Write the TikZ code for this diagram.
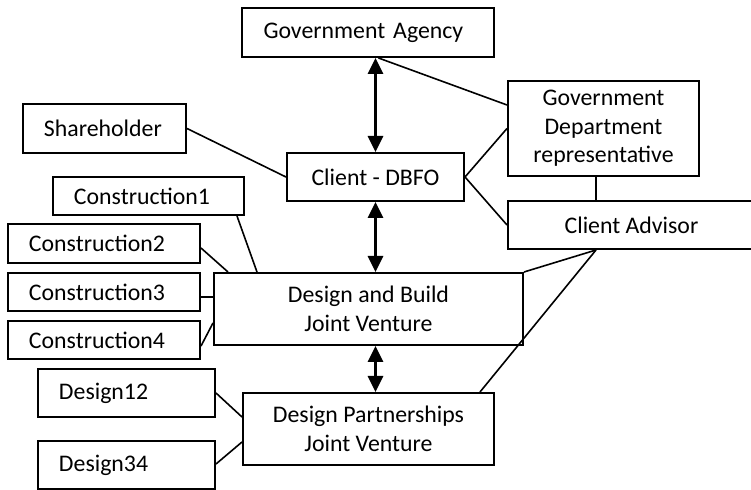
\documentclass[tikz,border=0pt]{standalone}
\usepackage{fontspec}
\setmainfont{Carlito}
\usetikzlibrary{arrows.meta,calc}
\begin{document}
\begin{tikzpicture}[x=0.5bp,y=-0.5bp,
  every node/.style={font=\fontsize{11.95pt}{14.2bp}\selectfont},
  box/.style={draw,line width=1bp,inner sep=0pt,align=center},
  lbox/.style={draw,line width=1bp,inner ysep=0pt,inner xsep=10.5bp,align=left},
  link/.style={line width=0.8bp},
  dblarrow/.style={line width=1.4bp,{Triangle[length=8bp,width=7.5bp]}-{Triangle[length=8bp,width=7.5bp]}}]
\useasboundingbox (0,0) rectangle (751,490);
\clip (0,0) rectangle (751,490);
% boxes
\node[lbox,text width=104.5bp,minimum height=24.5bp] (ga) at (368,32.5) {\mbox{Government Agency}};
\node[lbox,text width=60.5bp,minimum height=24.5bp] (sh) at (104.5,128.5) {\mbox{Shareholder}};
\node[box,minimum width=88.5bp,minimum height=24bp] (cl) at (375.5,177) {\mbox{Client - DBFO}};
\node[box,minimum width=95.5bp,minimum height=47.5bp] (gd) at (603.5,128.5) {Government\\Department\\representative};
\node[box,minimum width=123.5bp,minimum height=24bp] (ca) at (631.5,225) {\mbox{Client Advisor}};
\node[lbox,text width=74.5bp,minimum height=19bp] (c1) at (148.5,196) {\mbox{Construction1}};
\node[lbox,text width=75bp,minimum height=19.5bp] (c2) at (104,243.5) {\mbox{Construction2}};
\node[lbox,text width=75bp,minimum height=19bp] (c3) at (104,292) {\mbox{Construction3}};
\node[lbox,text width=75bp,minimum height=19bp] (c4) at (104,340) {\mbox{Construction4}};
\node[box,minimum width=154.5bp,minimum height=36bp] (db) at (368.5,309) {\mbox{Design and Build}\\\mbox{Joint Venture}};
\node[lbox,text width=67.5bp,minimum height=24bp] (d12) at (126.5,393) {\mbox{Design12}};
\node[lbox,text width=67.5bp,minimum height=24bp] (d34) at (126.5,465) {\mbox{Design34}};
\node[box,minimum width=125.5bp,minimum height=36bp] (dp) at (368.5,429) {\mbox{Design Partnerships}\\\mbox{Joint Venture}};
\coordinate (v) at (596,0);
% double arrows
\draw[dblarrow] (ga.south -| cl.north) -- (cl.north);
\draw[dblarrow] (cl.south) -- (db.north -| cl.south);
\draw[dblarrow] (db.south -| cl.south) -- (dp.north -| cl.south);
% links
\draw[link] ($(ga.south -| cl.north)+(3,0)$) -- ($(gd.west)+(0,-23.5)$);
\draw[link] (sh.east) -- (cl.west);
\draw[link] (cl.east) -- (gd.west);
\draw[link] (cl.east) -- (ca.west);
\draw[link] (gd.south -| v) -- (ca.north -| v);
\draw[link] (ca.south -| v) -- (db.north east);
\draw[link] (ca.south -| v) -- ($(dp.north east)+(-15,0)$);
\draw[link] ($(c1.south east)+(-8,0)$) -- ($(db.north west)+(44,0)$);
\draw[link] ($(c2.east)+(0,4.5)$) -- ($(db.north west)+(15,0)$);
\draw[link] ($(c3.east)+(0,5)$) coordinate (h3) -- (h3 -| db.west);
\draw[link] ($(c4.east)+(0,6)$) -- ($(db.west)+(0,14)$);
\draw[link] (d12.east) -- ($(dp.west)+(0,-12)$);
\draw[link] ($(d34.east)+(0,-1)$) -- ($(dp.west)+(0,13)$);
\end{tikzpicture}
\end{document}
